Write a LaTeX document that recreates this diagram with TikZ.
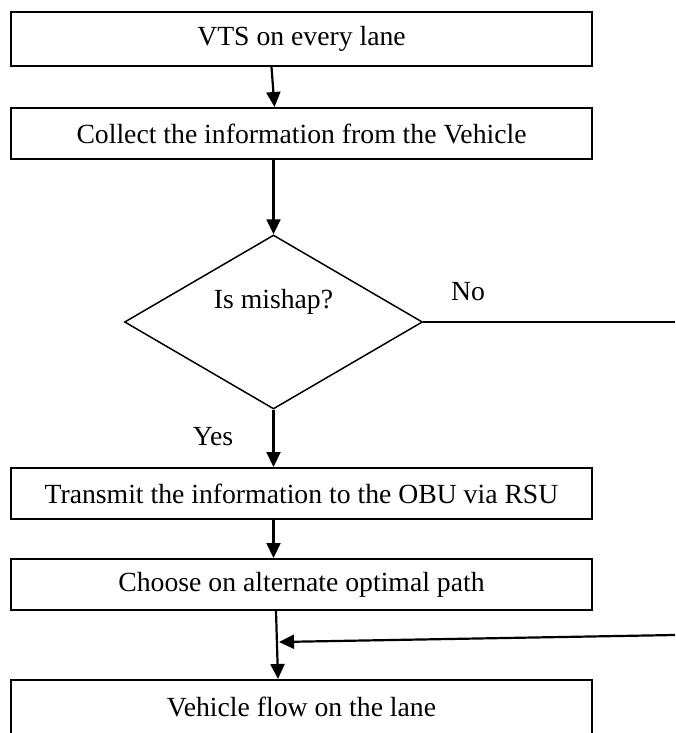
\documentclass[tikz,border=0pt]{standalone}
\usepackage{fontspec}
\setmainfont{Liberation Serif}
\usetikzlibrary{shapes.geometric,arrows.meta}
\begin{document}
\begin{tikzpicture}[x=1pt,y=-1pt,
  box/.style={draw,line width=2pt,minimum width=581pt,minimum height=51pt,inner sep=0pt,font=\fontsize{27.7}{30}\selectfont},
  dia/.style={draw,diamond,line width=1.5pt,minimum width=298pt,minimum height=174pt,inner sep=0pt},
  lbl/.style={font=\fontsize{27.7}{30}\selectfont,inner sep=0pt},
  arr/.style={line width=2.2pt,-{Triangle[length=15pt,width=14pt]}},
  ln/.style={line width=2.2pt}]
\useasboundingbox (0,0) rectangle (675,733);
\clip (0,0) rectangle (675,733);
\fill[white] (0,0) rectangle (675,733);
\node[box,minimum height=54pt] (b1) at (301.5,39) {VTS on every lane};
\node[box] (b2) at (301.5,133.5) {Collect the information from the Vehicle};
\node[dia] (d) at (273.5,322) {};
\node[lbl] (dt) at (273.5,302) {Is mishap?};
\node[box] (b3) at (301.5,493.5) {Transmit the information to the OBU via RSU};
\node[box] (b4) at (301.5,584.5) {Choose on alternate optimal path};
\node[box,minimum height=56pt] (b5) at (301.5,708) {};
\node[lbl] (b5t) at (301.5,707) {Vehicle flow on the lane};
\node[lbl] (no) at (468,292) {No};
\node[lbl] (yes) at (213,437) {Yes};
\coordinate (nR) at (675,322);
\coordinate (bR) at (675,635);
\coordinate (m) at (279,642);
\draw[arr] ([xshift=-2pt]b1.south -| d) -- ([xshift=1pt]b2.north -| d);
\draw[arr] (b2.south -| d) -- (d.north);
\draw[arr] (d.south) -- (b3.north -| d);
\draw[arr] (b3.south -| d) -- (b4.north -| d);
\draw[arr] ([xshift=2.5pt]b4.south -| d) -- ([xshift=4.5pt]b5.north -| d);
\draw[ln] (d.east) -- (nR);
\draw[arr] (bR) -- (m);
\end{tikzpicture}
\end{document}
